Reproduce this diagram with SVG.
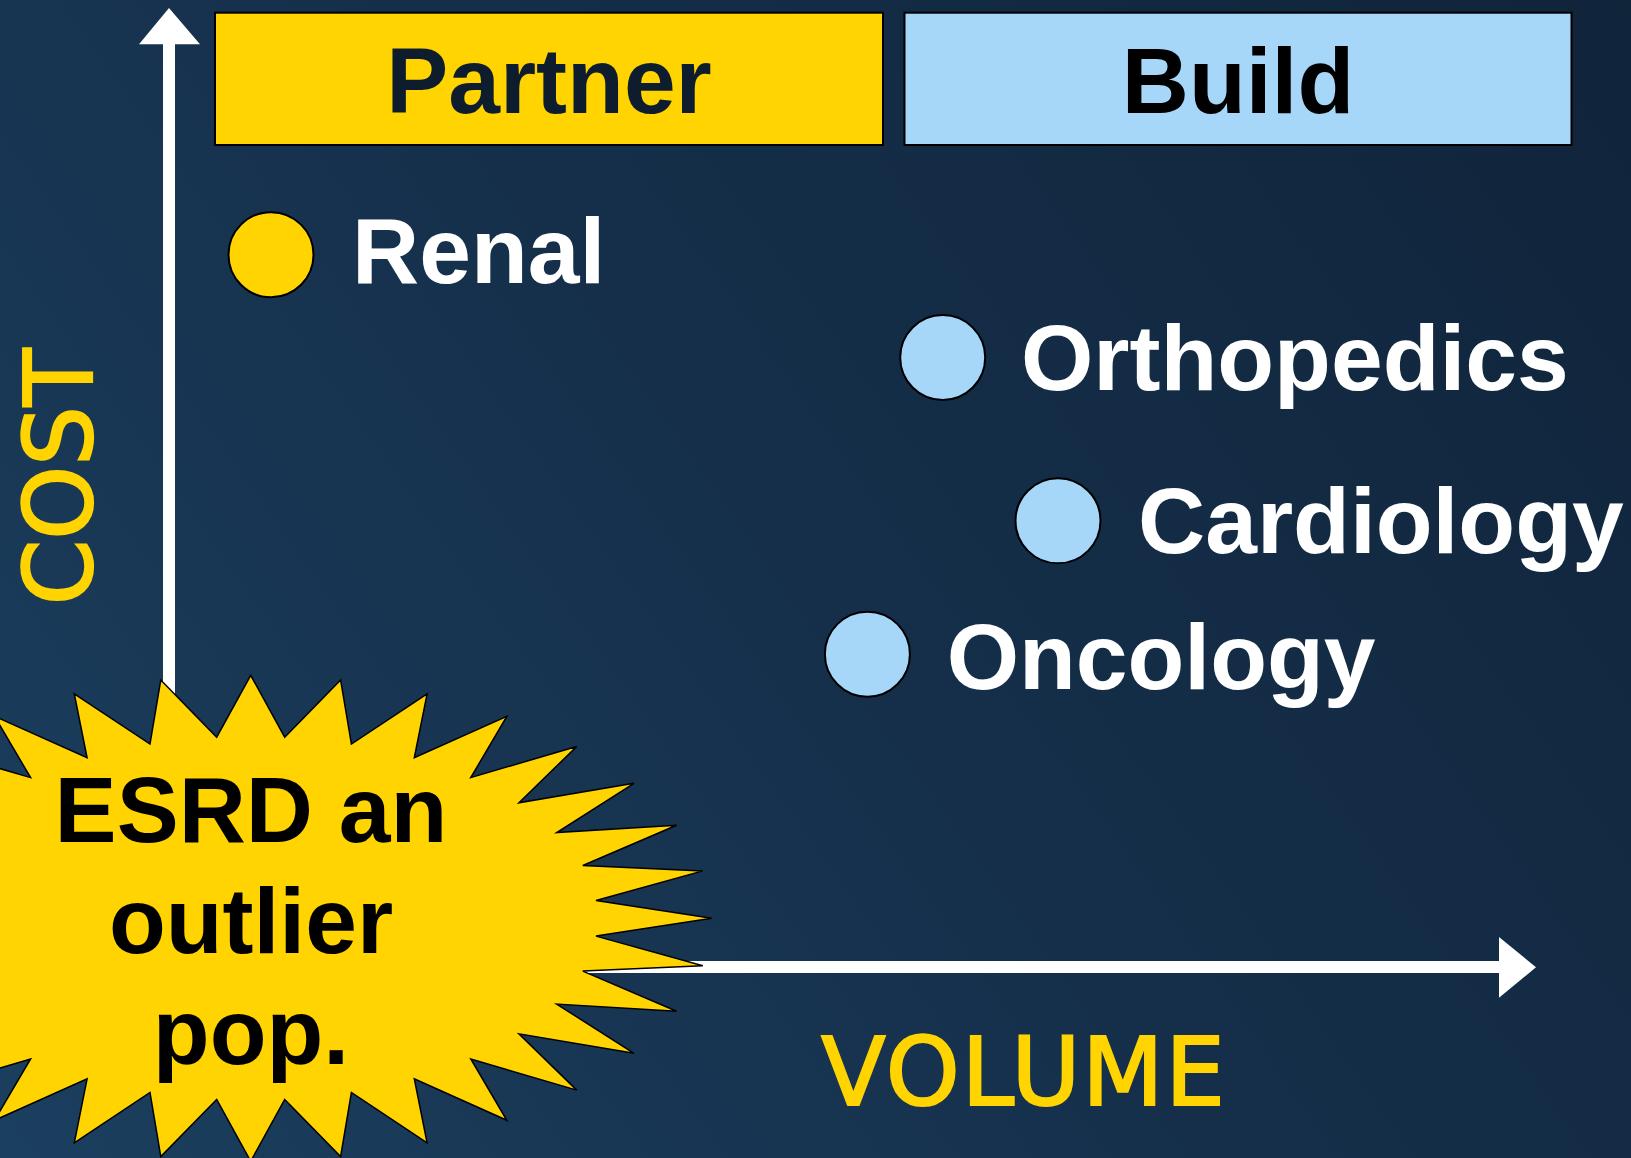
<svg xmlns="http://www.w3.org/2000/svg" width="1631" height="1158" viewBox="0 0 1631 1158">
  <defs>
    <linearGradient id="bg" x1="0" y1="1158" x2="1631" y2="0" gradientUnits="userSpaceOnUse">
      <stop offset="0" stop-color="#1b3f5f"/>
      <stop offset="0.5" stop-color="#152f4a"/>
      <stop offset="1" stop-color="#10243a"/>
    </linearGradient>
    <style>
      .head { font-family: "Liberation Sans", Arial, sans-serif; font-weight: bold; font-size: 93px; text-anchor: middle; }
      .item { font-family: "Liberation Sans", Arial, sans-serif; font-weight: bold; font-size: 93px; fill: #ffffff; }
      .axis-label { font-family: "DejaVu Sans", Verdana, sans-serif; font-size: 94px; fill: #ffd400; stroke: #ffd400; stroke-width: 2.2; text-anchor: middle; }
      .burst-text { font-family: "Liberation Sans", Arial, sans-serif; font-weight: bold; font-size: 93px; fill: #000000; text-anchor: middle; }
      .dot-partner { fill: #ffd400; stroke: #000000; stroke-width: 2; }
      .dot-build { fill: #a6d6f8; stroke: #000000; stroke-width: 2; }
      .axis { fill: #ffffff; }
    </style>
  </defs>

  <!-- background -->
  <rect x="0" y="0" width="1631" height="1158" fill="url(#bg)"/>

  <!-- axes -->
  <g id="connectors">
    <rect class="axis" x="163" y="40" width="12" height="900"/>
    <polygon class="axis" points="169,8 200,44.3 139,44.3"/>
    <rect class="axis" x="169" y="961" width="1333" height="12"/>
    <polygon class="axis" points="1499,937 1536,967.3 1499,997.7"/>
  </g>

  <!-- column headers -->
  <g id="header-partner">
    <rect x="215" y="12.7" width="668" height="132.3" fill="#ffd400" stroke="#000000" stroke-width="2"/>
    <text class="head" x="549" y="113" fill="#0e1d2e">Partner</text>
  </g>
  <g id="header-build">
    <rect x="904.5" y="12.7" width="667" height="132.3" fill="#a6d6f8" stroke="#000000" stroke-width="2"/>
    <text class="head" x="1238" y="113" fill="#000000">Build</text>
  </g>

  <!-- service lines -->
  <g id="node-renal">
    <circle class="dot-partner" cx="271" cy="254.7" r="42.5"/>
    <text class="item" x="352" y="283">Renal</text>
  </g>
  <g id="node-orthopedics">
    <circle class="dot-build" cx="942.7" cy="357.5" r="42.5"/>
    <text class="item" x="1021" y="390">Orthopedics</text>
  </g>
  <g id="node-cardiology">
    <circle class="dot-build" cx="1058" cy="520.8" r="42.5"/>
    <text class="item" x="1138" y="553">Cardiology</text>
  </g>
  <g id="node-oncology">
    <circle class="dot-build" cx="867.4" cy="654.2" r="42.5"/>
    <text class="item" x="946.7" y="689">Oncology</text>
  </g>

  <!-- axis titles -->
  <g id="label-cost">
    <text class="axis-label" transform="translate(92,477) rotate(-90)">COST</text>
  </g>
  <g id="label-volume">
    <text class="axis-label" x="1024" y="1105" letter-spacing="2">VOLUME</text>
  </g>

  <!-- callout burst -->
  <g id="node-esrd">
    <polygon transform="translate(250.7,918.3)" fill="#ffd400" stroke="#000000" stroke-width="1.5" stroke-linejoin="miter"
      points="461,0 345.3,-17.8 452.1,-47.4 332.1,-52.8 425.9,-93 306,-85.8 383.3,-135 268.2,-115.5 326,-171.8 220.1,-140.7 256.1,-202 163.6,-160.5 176.4,-224.5 100.7,-174.2 89.9,-238.3 34,-181.1 0,-243 -34,-181.1 -89.9,-238.3 -100.7,-174.2 -176.4,-224.5 -163.6,-160.5 -256.1,-202 -220.1,-140.7 -326,-171.8 -268.2,-115.5 -383.3,-135 -306,-85.8 -425.9,-93 -332.1,-52.8 -452.1,-47.4 -345.3,-17.8 -461,0 -345.3,17.8 -452.1,47.4 -332.1,52.8 -425.9,93 -306,85.8 -383.3,135 -268.2,115.5 -326,171.8 -220.1,140.7 -256.1,202 -163.6,160.5 -176.4,224.5 -100.7,174.2 -89.9,238.3 -34,181.1 0,243 34,181.1 89.9,238.3 100.7,174.2 176.4,224.5 163.6,160.5 256.1,202 220.1,140.7 326,171.8 268.2,115.5 383.3,135 306,85.8 425.9,93 332.1,52.8 452.1,47.4 345.3,17.8"/>
    <text class="burst-text" x="251" y="842">ESRD an</text>
    <text class="burst-text" x="251" y="953">outlier</text>
    <text class="burst-text" x="251" y="1064">pop.</text>
  </g>
</svg>
